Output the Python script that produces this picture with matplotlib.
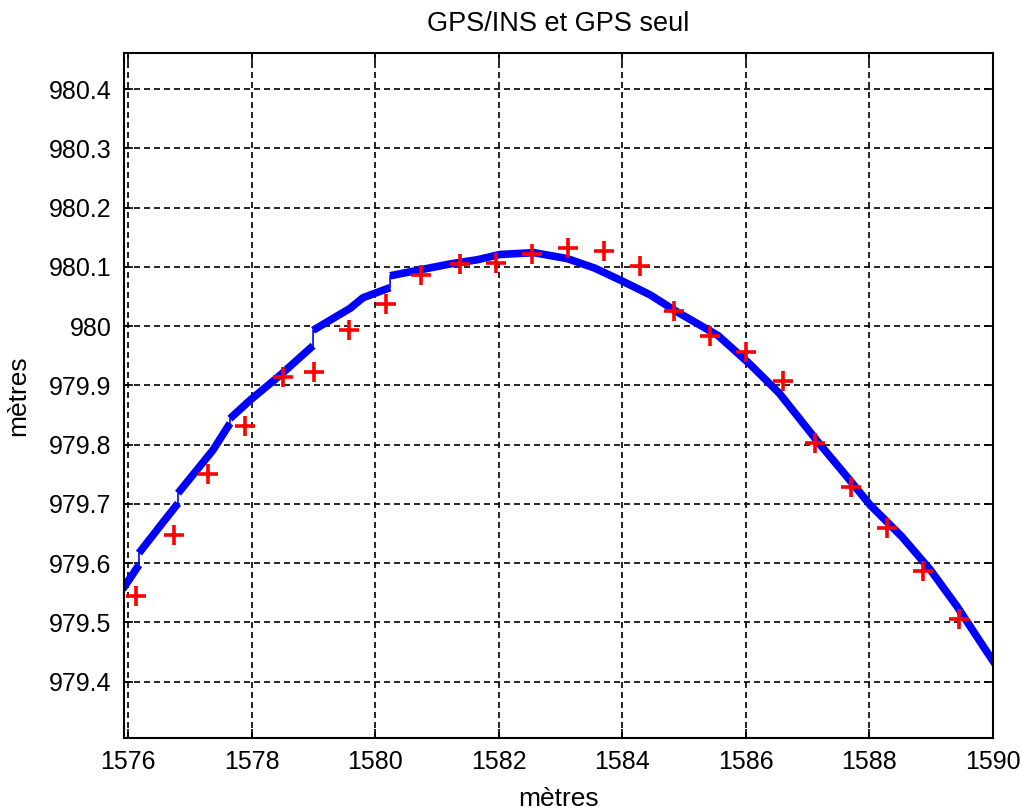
import numpy as np
import matplotlib.pyplot as plt

plt.rcParams['font.family'] = ['Liberation Sans', 'DejaVu Sans']

# GPS seul (croix rouges)
gps_x = [1576.125, 1576.740, 1577.291, 1577.890, 1578.506, 1579.008, 1579.575, 1580.174,
         1580.741, 1581.373, 1581.956, 1582.539, 1583.122, 1583.705, 1584.288, 1584.839,
         1585.422, 1586.005, 1586.604, 1587.122, 1587.706, 1588.289, 1588.872, 1589.455]
gps_y = [979.545, 979.647, 979.750, 979.831, 979.915, 979.922, 979.994, 980.038,
         980.087, 980.105, 980.107, 980.121, 980.132, 980.127, 980.102, 980.025,
         979.984, 979.956, 979.908, 979.802, 979.728, 979.659, 979.587, 979.506]

# GPS/INS (trait bleu), morceaux séparés par de petits sauts
ins_x = [[1575.909, 1576.173],
         [1576.173, 1576.562, 1576.805],
         [1576.805, 1577.372, 1577.647],
         [1577.647, 1577.971, 1578.457, 1578.992],
         [1578.992, 1579.315, 1579.591, 1579.801, 1580.239],
         [1580.239, 1580.676, 1581.211, 1581.648, 1582.020, 1582.571, 1583.106,
          1583.551, 1583.980, 1584.447, 1584.855, 1585.551, 1586.053, 1586.539,
          1587.187, 1587.628, 1588.013, 1588.523, 1588.985, 1589.419, 1589.860,
          1590.119]]
ins_y = [[979.556, 979.597],
         [979.617, 979.669, 979.701],
         [979.718, 979.791, 979.836],
         [979.844, 979.875, 979.917, 979.967],
         [979.993, 980.013, 980.030, 980.048, 980.065],
         [980.085, 980.094, 980.105, 980.112, 980.121, 980.124, 980.114,
          980.098, 980.077, 980.053, 980.026, 979.984, 979.937, 979.887,
          979.802, 979.747, 979.698, 979.645, 979.589, 979.527, 979.457,
          979.417]]

fig = plt.figure(figsize=(10.21, 8.10), dpi=100)
ax = fig.add_axes([0.1214, 0.0889, 0.8511, 0.8457])

# trait fin continu + morceaux épais
ax.plot(np.concatenate(ins_x), np.concatenate(ins_y), color='blue', linewidth=1.2)
for xs, ys in zip(ins_x, ins_y):
    ax.plot(xs, ys, color='blue', linewidth=5.5, solid_capstyle='butt',
            solid_joinstyle='round')

ax.plot(gps_x, gps_y, '+', color='red', markersize=15, markeredgewidth=2.6)

ax.set_xlim(1575.93, 1590)
ax.set_ylim(979.305, 980.461)
ax.set_xticks(np.arange(1576, 1591, 2))
ax.set_yticks(np.arange(979.4, 980.45, 0.1))
ax.set_yticklabels(['979.4', '979.5', '979.6', '979.7', '979.8', '979.9',
                    '980', '980.1', '980.2', '980.3', '980.4'])

ax.grid(True, color='black', linestyle=(0, (3.6, 2.4)), linewidth=1.2)
ax.tick_params(direction='in', top=True, right=True, length=6.5, width=1.2,
               labelsize=18, pad=9)
for s in ax.spines.values():
    s.set_linewidth(1.5)

ax.set_title('GPS/INS et GPS seul', fontsize=19.5, pad=16)
ax.set_xlabel('mètres', fontsize=19, labelpad=9)
ax.set_ylabel('mètres', fontsize=19, labelpad=13)

plt.savefig('out.png', dpi=100)
